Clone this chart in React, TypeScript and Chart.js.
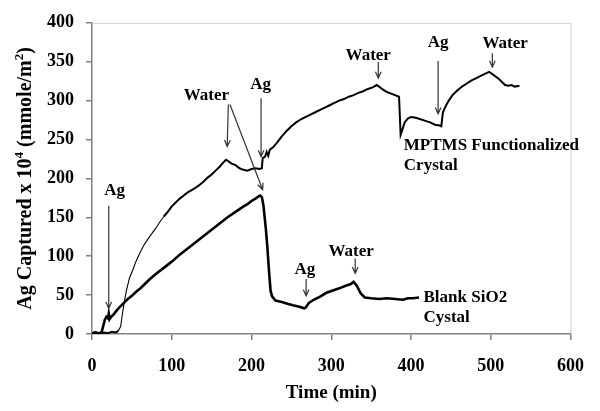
import React, { useEffect, useRef } from "react";
import { Chart, registerables } from "chart.js";

Chart.register(...registerables);

// ---- Data (time in min, Ag captured x 10^4 in mmole/m^2) ----
const mptmsTime = [0, 5, 10, 15, 20, 25, 30, 33, 36, 38, 40, 43, 47, 51, 55, 60, 65, 70, 75, 80, 85, 90, 95, 100, 105, 110, 115, 120, 125, 130, 134, 140, 145, 150, 155, 160, 165, 168, 171, 175, 180, 185, 190, 195, 200, 205, 210, 213, 214, 217, 219, 221, 223, 227, 232, 238, 244, 250, 256, 262, 268, 274, 280, 286, 292, 298, 304, 310, 316, 322, 328, 334, 340, 346, 352, 357, 360, 365, 370, 375, 380, 385, 386, 387, 389, 392, 396, 400, 406, 412, 418, 424, 430, 436, 438, 440, 444, 448, 452, 458, 464, 470, 476, 482, 488, 494, 498, 502, 506, 510, 514, 518, 522, 526, 530, 536];
const mptmsValue = [1, 2, 0, 2, 1, 3, 2, 4, 10, 25, 38, 55, 72, 82, 93, 104, 114, 122, 129, 136, 144, 151, 157, 164, 169, 174, 178, 182, 185, 188, 191, 196, 201, 205, 210, 215, 221, 224, 222, 219, 217, 213, 211, 210, 212, 213, 212, 213, 226, 228, 234, 229, 237, 240, 246, 254, 261, 267, 272, 276, 279, 282, 285, 288, 291, 294, 297, 300, 302, 305, 307, 310, 312, 315, 317, 320, 318, 314, 311, 309, 307, 305, 305, 256, 262, 272, 277, 279, 278, 276, 274, 272, 269, 268, 267, 285, 294, 301, 307, 313, 318, 322, 326, 329, 332, 335, 337, 334, 331, 328, 324, 320, 319, 320, 318, 319];

const blankTime = [0, 4, 8, 12, 14, 16, 18, 20, 21, 22, 24, 27, 30, 35, 40, 45, 50, 55, 60, 65, 72, 80, 90, 100, 110, 120, 130, 140, 150, 160, 170, 180, 190, 195, 200, 205, 209, 211, 213, 215, 218, 220, 222, 224, 226, 230, 238, 245, 252, 260, 266, 268, 272, 278, 286, 294, 302, 311, 318, 324, 328, 332, 337, 342, 350, 360, 370, 380, 390, 396, 402, 410];
const blankValue = [1, 2, 1, 2, 10, 18, 22, 20, 26, 19, 22, 25, 29, 35, 40, 45, 49, 54, 58, 63, 70, 77, 85, 93, 102, 110, 118, 126, 134, 142, 150, 157, 164, 167, 171, 174, 177, 178, 176, 165, 135, 110, 80, 55, 48, 43, 41, 39, 37, 35, 33, 34, 40, 44, 48, 53, 56, 59, 62, 64, 67, 62, 52, 47, 46, 45, 46, 45, 44, 46, 46, 47];

const xTicks = [0, 100, 200, 300, 400, 500, 600];
const yTicks = [0, 50, 100, 150, 200, 250, 300, 350, 400];

// Annotation labels (text, x, y in data units)
const labelText = ["Ag", "Water", "Ag", "Water", "Ag", "Water", "Ag", "Water"];
const labelX = [28.5, 143.5, 211.5, 346.4, 434, 518, 267, 325];
const labelY = [184, 307, 320.5, 358, 375, 373.5, 83, 106];

// Arrows (from -> to, data units)
const arrowX0 = [21, 171, 173, 212, 359, 434, 502, 268.5, 330];
const arrowY0 = [165, 295, 295, 303, 349.5, 351, 361, 70.7, 97];
const arrowX1 = [21, 169.5, 214, 212, 359, 434, 502, 268.5, 330];
const arrowY1 = [33, 241, 185.5, 228, 329, 283, 343, 49, 78];

// Series captions (left aligned)
const captionLines = ["MPTMS Functionalized", "Crystal", "Blank SiO2", "Cystal"];
const captionX = [391, 391, 415.7, 415.7];
const captionY = [242, 217, 46.7, 21.5];

const SERIF = "'Liberation Serif', 'Times New Roman', serif";

const decorPlugin = {
  id: "decor",
  afterDraw(chart: any) {
    const { ctx, chartArea, scales } = chart;
    const xs = scales.x;
    const ys = scales.y;
    ctx.save();
    // top & right frame
    ctx.strokeStyle = "#cfcfcf";
    ctx.lineWidth = 1;
    ctx.beginPath();
    ctx.moveTo(chartArea.left, chartArea.top + 0.5);
    ctx.lineTo(chartArea.right + 0.5, chartArea.top + 0.5);
    ctx.lineTo(chartArea.right + 0.5, chartArea.bottom);
    ctx.stroke();

    // arrows
    ctx.strokeStyle = "#333333";
    ctx.lineWidth = 1.2;
    for (let i = 0; i < arrowX0.length; i++) {
      const x0 = xs.getPixelForValue(arrowX0[i]);
      const y0 = ys.getPixelForValue(arrowY0[i]);
      const x1 = xs.getPixelForValue(arrowX1[i]);
      const y1 = ys.getPixelForValue(arrowY1[i]);
      const ang = Math.atan2(y1 - y0, x1 - x0);
      const h = 7;
      const spread = 0.42;
      ctx.beginPath();
      ctx.moveTo(x0, y0);
      ctx.lineTo(x1, y1);
      ctx.moveTo(x1 - h * Math.cos(ang - spread), y1 - h * Math.sin(ang - spread));
      ctx.lineTo(x1, y1);
      ctx.lineTo(x1 - h * Math.cos(ang + spread), y1 - h * Math.sin(ang + spread));
      ctx.stroke();
    }

    // labels
    ctx.fillStyle = "#000";
    ctx.font = `bold 17px ${SERIF}`;
    ctx.textAlign = "center";
    ctx.textBaseline = "middle";
    for (let i = 0; i < labelText.length; i++) {
      ctx.fillText(labelText[i], xs.getPixelForValue(labelX[i]), ys.getPixelForValue(labelY[i]));
    }
    ctx.textAlign = "left";
    for (let i = 0; i < captionLines.length; i++) {
      ctx.fillText(captionLines[i], xs.getPixelForValue(captionX[i]), ys.getPixelForValue(captionY[i]));
    }

    // x title
    ctx.font = `bold 19px ${SERIF}`;
    ctx.textAlign = "center";
    ctx.fillText("Time (min)", (chartArea.left + chartArea.right) / 2, 393);

    // y title with superscripts
    const parts: [string, boolean][] = [
      ["Ag Captured x 10", false],
      ["4", true],
      [" (mmole/m", false],
      ["2", true],
      [")", false],
    ];
    const big = `bold 20px ${SERIF}`;
    const small = `bold 13px ${SERIF}`;
    let total = 0;
    for (const [t, sup] of parts) {
      ctx.font = sup ? small : big;
      total += ctx.measureText(t).width;
    }
    ctx.translate(31, (chartArea.top + chartArea.bottom) / 2);
    ctx.rotate(-Math.PI / 2);
    ctx.textAlign = "left";
    ctx.textBaseline = "alphabetic";
    let cx = -total / 2;
    for (const [t, sup] of parts) {
      ctx.font = sup ? small : big;
      ctx.fillText(t, cx, sup ? -8 : 0);
      cx += ctx.measureText(t).width;
    }
    ctx.restore();
  },
};

export default function App() {
  const ref = useRef<HTMLCanvasElement | null>(null);
  useEffect(() => {
    document.body.style.margin = "0";
    const canvas = ref.current;
    if (!canvas) return;
    const chart = new Chart(canvas, {
      type: "line",
      data: {
        datasets: [
          {
            label: "MPTMS Functionalized Crystal",
            data: mptmsTime.map((t, i) => ({ x: t, y: mptmsValue[i] })),
            borderColor: "#000",
            borderWidth: 1.8,
            pointRadius: 0,
            tension: 0,
            segment: {
              borderWidth: (c: any) => (c.p0.parsed.x >= 33 && c.p0.parsed.x < 90 ? 1.1 : 2),
            },
          },
          {
            label: "Blank SiO2 Cystal",
            data: blankTime.map((t, i) => ({ x: t, y: blankValue[i] })),
            borderColor: "#000",
            borderWidth: 2.6,
            pointRadius: 0,
            tension: 0,
          },
        ],
      },
      options: {
        responsive: false,
        animation: false,
        devicePixelRatio: 1,
        layout: { padding: { top: 17, right: 23, left: 0, bottom: 0 } },
        plugins: { legend: { display: false }, tooltip: { enabled: false } },
        scales: {
          x: {
            type: "linear",
            min: 0,
            max: 600,
            afterFit(scale: any) {
              scale.height = 77;
            },
            afterBuildTicks(scale: any) {
              scale.ticks = xTicks.map((v) => ({ value: v }));
            },
            ticks: {
              color: "#000",
              font: { family: SERIF, size: 18, weight: "bold" },
              padding: 16,
              maxRotation: 0,
            },
            grid: { drawOnChartArea: false, tickLength: 6, color: "#808080", lineWidth: 1.5 },
            border: { color: "#808080", width: 1.5 },
          },
          y: {
            type: "linear",
            min: 0,
            max: 400,
            afterFit(scale: any) {
              scale.width = 92;
            },
            afterBuildTicks(scale: any) {
              scale.ticks = yTicks.map((v) => ({ value: v }));
            },
            ticks: {
              color: "#000",
              font: { family: SERIF, size: 18, weight: "bold" },
              padding: 12,
            },
            grid: { drawOnChartArea: false, tickLength: 6, color: "#808080", lineWidth: 1.5 },
            border: { color: "#808080", width: 1.5 },
          },
        },
      },
      plugins: [decorPlugin],
    });
    return () => chart.destroy();
  }, []);
  return (
    <div style={{ position: "fixed", left: 0, top: 0, width: 600, height: 411, background: "#fff" }}>
      <canvas ref={ref} width={600} height={411} style={{ width: 600, height: 411 }} />
    </div>
  );
}
